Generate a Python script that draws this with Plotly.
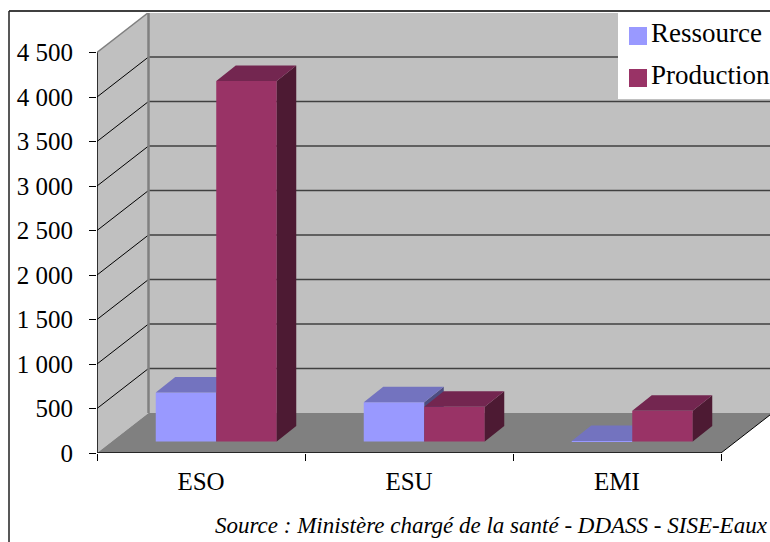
import plotly.graph_objects as go

# --- data ---
categories = ["ESO", "ESU", "EMI"]
ressource = [550, 440, 5]
production = [4050, 390, 345]
y_ticks = [0, 500, 1000, 1500, 2000, 2500, 3000, 3500, 4000, 4500]
y_labels = ["0", "500", "1 000", "1 500", "2 000", "2 500", "3 000", "3 500", "4 000", "4 500"]
series_names = ["Ressource", "Production"]
source_text = "Source : Ministère chargé de la santé - DDASS - SISE-Eaux"

# --- canvas geometry (pixels) ---
W, H = 770, 542
L, T, B = 97, 13, 89
PW, PH = W - L, H - T - B
CAT_PX = 208.0
Y_PX = 400.5 / 4500.0

def xd(px):
    return (px - L) / CAT_PX - 0.5

def yd(px):
    return (H - B - px) / Y_PX

def xp(px):
    return (px - L) / PW

def yp(px):
    return (H - B - px) / PH

X_RANGE = [xd(L), xd(W)]
Y_RANGE = [yd(H - B), yd(T)]

# 3D look: depth of the box and of the bars, in data units
WALL_DX, WALL_DY = 51.5 / CAT_PX, 40 / Y_PX
BAR_DX, BAR_DY = 19.5 / CAT_PX, 15.5 / Y_PX
BAR_BASE = 11.5 / Y_PX
BAR_W = 60.5 / CAT_PX
OFFSETS = [-15 / CAT_PX, 45.5 / CAT_PX]

WALL, FLOOR, EDGE = "#C0C0C0", "#808080", "#808080"
COLORS = [("#9999FF", "#7373BF", "#4D4D80"), ("#993366", "#732650", "#4D1A33")]

def poly(xs, ys, fill, xa, ya):
    return go.Scatter(x=xs, y=ys, mode="lines", fill="toself", fillcolor=fill,
                      line=dict(width=0, color=fill), showlegend=False,
                      hoverinfo="skip", xaxis=xa, yaxis=ya)

fig = go.Figure()
for s, (vals, cols, off) in enumerate(zip([ressource, production], COLORS, OFFSETS)):
    xa, ya = ("x", "y") if s == 0 else ("x2", "y2")
    centers = [i + off for i in range(len(vals))]
    fig.add_trace(go.Bar(x=centers, y=vals, base=[BAR_BASE] * len(vals), width=BAR_W,
                         marker=dict(color=cols[0], line=dict(width=0)),
                         name=series_names[s], showlegend=False, xaxis=xa, yaxis=ya))
    tx, ty, sx, sy = [], [], [], []
    for c, v in zip(centers, vals):
        xl, xr = c - BAR_W / 2, c + BAR_W / 2
        top = BAR_BASE + v
        tx += [xl, xr, xr + BAR_DX, xl + BAR_DX, xl, None]
        ty += [top, top, top + BAR_DY, top + BAR_DY, top, None]
        sx += [xr, xr + BAR_DX, xr + BAR_DX, xr, xr, None]
        sy += [BAR_BASE, BAR_BASE + BAR_DY, top + BAR_DY, top, BAR_BASE, None]
    fig.add_trace(poly(sx, sy, cols[2], xa, ya))
    fig.add_trace(poly(tx, ty, cols[1], xa, ya))

shapes = []

def path(points):
    return "M " + " L ".join(f"{x},{y}" for x, y in points) + " Z"

x0, x1 = -0.5, 2.5
ymax = 4500
# walls and floor
shapes.append(dict(type="path", layer="below", xref="x", yref="y", fillcolor=WALL, line_width=0,
                   path=path([(x0, 0), (x0 + WALL_DX, WALL_DY), (x0 + WALL_DX, ymax + WALL_DY), (x0, ymax)])))
shapes.append(dict(type="rect", layer="below", xref="x", yref="y", fillcolor=WALL, line_width=0,
                   x0=x0 + WALL_DX, x1=X_RANGE[1], y0=WALL_DY, y1=ymax + WALL_DY))
shapes.append(dict(type="path", layer="below", xref="x", yref="y", fillcolor=FLOOR, line_width=0,
                   path=path([(x0, 0), (x1, 0), (x1 + WALL_DX, WALL_DY), (x0 + WALL_DX, WALL_DY)])))
# gridlines
for v in y_ticks[1:-1]:
    shapes.append(dict(type="line", layer="below", xref="x", yref="y", x0=x0, y0=v,
                       x1=x0 + WALL_DX, y1=v + WALL_DY, line=dict(color="#000000", width=1)))
    shapes.append(dict(type="line", layer="below", xref="x", yref="y", x0=x0 + WALL_DX, y0=v + WALL_DY,
                       x1=X_RANGE[1], y1=v + WALL_DY, line=dict(color="#404040", width=1.5)))
# wall edges
shapes.append(dict(type="line", layer="below", xref="x", yref="y", x0=x0 + WALL_DX, x1=x0 + WALL_DX,
                   y0=WALL_DY, y1=ymax + WALL_DY, line=dict(color=EDGE, width=2.5)))
shapes.append(dict(type="line", layer="below", xref="x", yref="y", x0=x0, x1=x0 + WALL_DX,
                   y0=ymax, y1=ymax + WALL_DY, line=dict(color=EDGE, width=1.5)))
# front axes
shapes.append(dict(type="line", layer="above", xref="x", yref="y", x0=x0, x1=x0, y0=0, y1=ymax,
                   line=dict(color="#000000", width=1.5)))
shapes.append(dict(type="line", layer="above", xref="x", yref="y", x0=x0, x1=x1, y0=0, y1=0,
                   line=dict(color="#262626", width=2)))
shapes.append(dict(type="line", layer="above", xref="x", yref="y", x0=x1, x1=x1 + WALL_DX, y0=0, y1=WALL_DY,
                   line=dict(color="#000000", width=1)))
# frame of the picture
shapes.append(dict(type="line", layer="above", xref="paper", yref="paper", x0=xp(9), x1=xp(W), y0=yp(11), y1=yp(11),
                   line=dict(color="#404040", width=2)))
shapes.append(dict(type="line", layer="above", xref="paper", yref="paper", x0=xp(9), x1=xp(9), y0=yp(11), y1=yp(H),
                   line=dict(color="#202020", width=1.5)))
# legend box and swatches
shapes.append(dict(type="rect", layer="above", xref="paper", yref="paper", fillcolor="#FFFFFF", line_width=0,
                   x0=xp(618), x1=xp(W), y0=yp(12), y1=yp(99)))
annotations = []
for (cols, name, py) in zip(COLORS, series_names, [36, 78]):
    shapes.append(dict(type="rect", layer="above", xref="paper", yref="paper", fillcolor=cols[0], line_width=0,
                       x0=xp(629), x1=xp(647), y0=yp(py - 9), y1=yp(py + 9)))
    annotations.append(dict(text=name, xref="paper", yref="paper", x=xp(648.5), y=yp(py - 3), xanchor="left",
                            yanchor="middle", showarrow=False,
                            font=dict(family="Liberation Serif", size=27, color="#000000")))
annotations.append(dict(text=source_text, xref="paper", yref="paper", x=xp(770), y=yp(525), xanchor="right",
                        yanchor="middle", showarrow=False,
                        font=dict(family="Liberation Serif", size=23, color="#000000", style="italic")))

fig.update_layout(
    width=W, height=H, autosize=False,
    margin=dict(l=L, r=0, t=T, b=B, pad=0),
    paper_bgcolor="#FFFFFF", plot_bgcolor="rgba(0,0,0,0)",
    barmode="overlay", showlegend=False,
    font=dict(family="Liberation Serif", size=25, color="#000000"),
    shapes=shapes, annotations=annotations,
    xaxis=dict(range=X_RANGE, tickmode="array", tickvals=list(range(len(categories))), ticktext=categories,
               ticks="outside", ticklen=0, tickwidth=0, showgrid=False, zeroline=False, showline=False,
               ticklabelstandoff=6,
               minor=dict(tickmode="array", tickvals=[-0.5, 0.5, 1.5, 2.5], ticks="outside", ticklen=7,
                          tickwidth=1, tickcolor="#000000", showgrid=False)),
    yaxis=dict(range=Y_RANGE, tickmode="array", tickvals=y_ticks, ticktext=y_labels, ticks="outside", ticklen=7,
               tickwidth=1, tickcolor="#000000", showgrid=False, zeroline=False, showline=False,
               ticklabelstandoff=11),
    xaxis2=dict(range=X_RANGE, overlaying="x", visible=False, anchor="y2"),
    yaxis2=dict(range=Y_RANGE, overlaying="y", visible=False, anchor="x2"),
)
fig.write_html("out.html", config={"displayModeBar": False},
               post_script="document.body.style.margin='0';document.documentElement.style.overflow='hidden';")
